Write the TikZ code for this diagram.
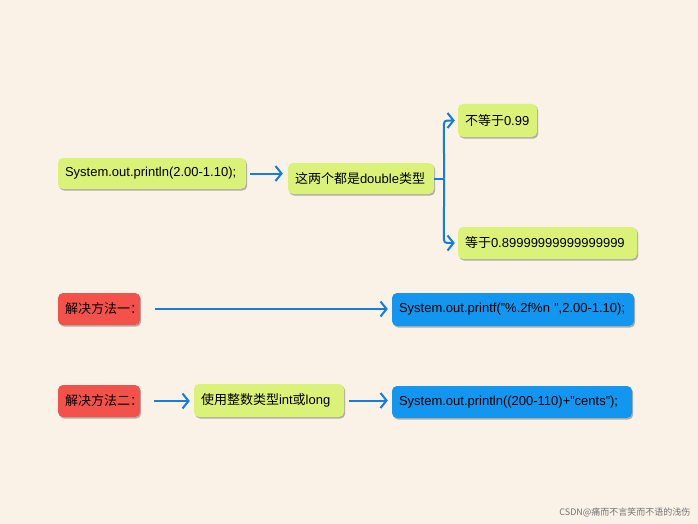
\documentclass[tikz,border=0pt]{standalone}
\usepackage{fontspec}
\setmainfont{Liberation Sans}
\newfontfamily\cjk{Noto Sans CJK SC}
\usetikzlibrary{arrows.meta,shadows}
\definecolor{bg}{RGB}{250,241,231}
\definecolor{lime}{RGB}{218,242,120}
\definecolor{redbox}{RGB}{242,82,74}
\definecolor{bluebox}{RGB}{18,150,240}
\definecolor{arrc}{RGB}{20,125,225}
\tikzset{
  box/.style={rounded corners=5pt, inner xsep=7pt, inner ysep=0pt, align=left,
    font=\fontsize{13}{15}\selectfont, text=black,
    drop shadow={shadow xshift=1.2pt, shadow yshift=-1.6pt, fill=black!50, opacity=.6}},
  gbox/.style={box, fill=lime},
  rbox/.style={box, fill=redbox},
  bbox/.style={box, fill=bluebox},
  wire/.style={draw=arrc, line width=2pt},
  conn/.style={wire, -{Straight Barb[length=6pt,width=15pt,line width=2pt]}},
}
\begin{document}
\begin{tikzpicture}[x=1pt,y=-1pt]
\fill[bg] (0,0) rectangle (698,524);
\useasboundingbox (0,0) rectangle (698,524);

\node[gbox, text width=174pt, minimum height=31pt] (a) at (152,173.5) {System.out.println(2.00-1.10);};
\node[gbox, text width=132pt, minimum height=31pt] (b) at (361,178.5) {{\cjk 这两个都是}double{\cjk 类型}};
\node[gbox, text width=65pt, minimum height=33pt] (c) at (497.5,120.5) {{\cjk 不等于}0.99};
\node[gbox, text width=165pt, minimum height=32pt] (d) at (547.5,243) {{\cjk 等于}0.89999999999999999};

\node[rbox, text width=68pt, minimum height=32pt] (r1) at (99,309) {{\cjk 解决方法一：}};
\node[bbox, text width=228pt, minimum height=33pt] (s1) at (513,309.5) {System.out.printf("\%.2f\%n ",2.00-1.10);};

\node[rbox, text width=68pt, minimum height=32pt] (r2) at (99,401) {{\cjk 解决方法二：}};
\node[gbox, text width=136pt, minimum height=33pt] (g2) at (269,400.5) {{\cjk 使用整数类型}int{\cjk 或}long};
\node[bbox, text width=226pt, minimum height=32pt] (s2) at (512,402) {System.out.println((200-110)+"cents");};

\draw[conn] (a.east) ++(4pt,0) coordinate (a1) -- ([xshift=-5pt]b.west |- a1);
\coordinate (bj) at ([xshift=10pt]b.east);
\draw[wire] (b.east) -- (bj);
\draw[conn] (bj) -- ([xshift=-14pt,yshift=-9pt]c.west)
  .. controls ([xshift=-14pt]c.west) .. ([xshift=-7pt]c.west) -- ([xshift=-3pt]c.west);
\draw[conn] (bj) -- ([xshift=-14pt,yshift=9pt]d.west)
  .. controls ([xshift=-14pt]d.west) .. ([xshift=-7pt]d.west) -- ([xshift=-3pt]d.west);

\draw[conn] ([xshift=15pt]r1.east) -- ([xshift=-4pt]s1.west |- r1.east);
\draw[conn] ([xshift=14pt]r2.east) -- ([xshift=-4pt]g2.west |- r2.east);
\draw[conn] ([xshift=5pt]g2.east) -- ([xshift=-4pt]s2.west |- g2.east);

\node[anchor=east, text=black!55, font=\cjk\fontsize{9}{10}\selectfont] (wm) at (694,512) {CSDN@痛而不言笑而不语的浅伤};
\end{tikzpicture}
\end{document}
